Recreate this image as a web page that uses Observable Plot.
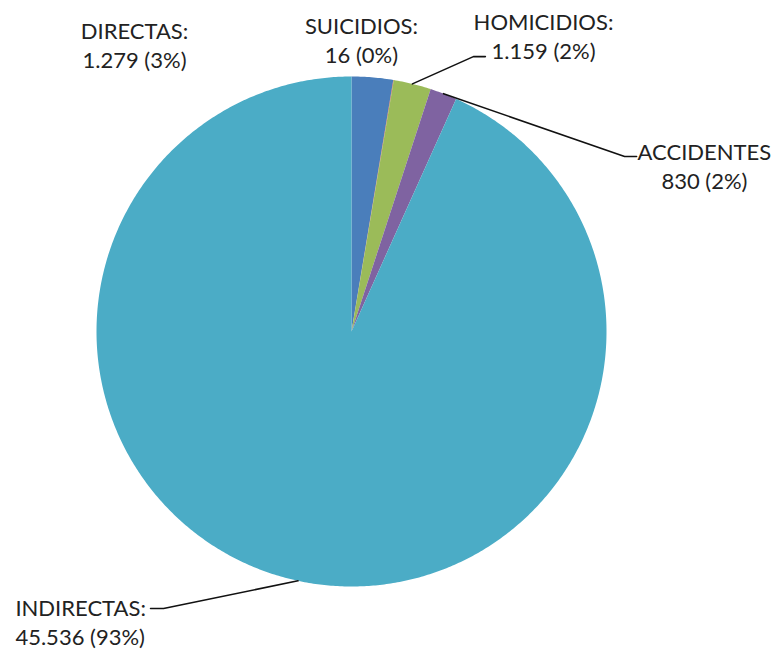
<!DOCTYPE html>
<html>
<head>
<meta charset="utf-8">
<script src="https://cdn.jsdelivr.net/npm/d3@7"></script>
<script src="https://cdn.jsdelivr.net/npm/@observablehq/plot@0.6"></script>
<style>
  html, body { margin: 0; padding: 0; background: #fff; }
  #chart { width: 774px; height: 650px; }
</style>
</head>
<body>
<div id="chart"></div>
<script>
// ---- Data ----
const names = ["DIRECTAS:", "SUICIDIOS:", "HOMICIDIOS:", "ACCIDENTES", "INDIRECTAS:"];
const values = [1279, 16, 1159, 830, 45536];
const colors = ["#4A7EBB", "#C0504D", "#9BBB59", "#7F63A1", "#4BACC6"];

// ---- Layout (in units of pie radius, origin at pie centre) ----
// label block centre, text anchor
const labelX = [-0.851, 0.039, 0.753, 1.384, -1.318];
const labelY = [1.125, 1.147, 1.163, 0.653, -1.135];
const labelAnchor = ["middle", "middle", "middle", "middle", "start"];
// leader lines: elbow and end points (null = no leader)
const leaderElbow = [null, null, [0.478, 1.078], [1.071, 0.686], [-0.737, -1.086]];
const leaderEnd = [null, null, [0.525, 1.078], [1.118, 0.686], [-0.788, -1.086]];

// ---- Build ----
const W = 774, H = 650, R = 255, CX = 351, CY = 331;
const total = d3.sum(values);
const loc = d3.formatLocale({decimal: ",", thousands: ".", grouping: [3], currency: ["", "€"]});
const fmt = loc.format(",d");

const rows = names.map((n, i) => ({name: n, value: values[i], i}));
const arcs = d3.pie().sort(null).value(d => d.value)(rows);

const slicePts = [];
arcs.forEach(a => {
  const n = a.data.name;
  slicePts.push({name: n, x: 0, y: 0});
  const steps = Math.max(2, Math.ceil((a.endAngle - a.startAngle) / (Math.PI / 360)));
  for (let k = 0; k <= steps; k++) {
    const t = a.startAngle + (a.endAngle - a.startAngle) * k / steps;
    slicePts.push({name: n, x: Math.sin(t), y: Math.cos(t)});
  }
  slicePts.push({name: n, x: 0, y: 0});
});

const labels = arcs.map((a, i) => ({
  name: a.data.name,
  x: labelX[i], y: labelY[i], anchor: labelAnchor[i],
  text: a.data.name + "\n" + fmt(a.data.value) + " (" + Math.round(a.data.value / total * 100) + "%)"
}));

const leaderPts = [];
arcs.forEach((a, i) => {
  if (!leaderElbow[i]) return;
  const m = (a.startAngle + a.endAngle) / 2;
  leaderPts.push({name: a.data.name, x: Math.sin(m), y: Math.cos(m)});
  leaderPts.push({name: a.data.name, x: leaderElbow[i][0], y: leaderElbow[i][1]});
  leaderPts.push({name: a.data.name, x: leaderEnd[i][0], y: leaderEnd[i][1]});
});

const textOpts = {
  x: "x", y: "y", text: "text",
  fontSize: 22, lineHeight: 1.32, lineAnchor: "middle",
  fill: "#222", fontFamily: "Lato, 'Open Sans', sans-serif"
};

const chart = Plot.plot({
  width: W, height: H,
  margin: 0,
  style: {background: "#fff", fontFamily: "Lato, sans-serif"},
  x: {domain: [-CX / R, (W - CX) / R], axis: null},
  y: {domain: [-(H - CY) / R, CY / R], axis: null},
  color: {domain: names, range: colors},
  marks: [
    Plot.line(slicePts, {x: "x", y: "y", z: "name", fill: "name", stroke: "none", curve: "linear"}),
    Plot.line(leaderPts, {x: "x", y: "y", z: "name", stroke: "#111", strokeWidth: 1.6}),
    Plot.text(labels.filter(d => d.anchor === "middle"), {...textOpts, textAnchor: "middle"}),
    Plot.text(labels.filter(d => d.anchor === "start"), {...textOpts, textAnchor: "start"})
  ]
});
document.getElementById("chart").appendChild(chart);
</script>
</body>
</html>
